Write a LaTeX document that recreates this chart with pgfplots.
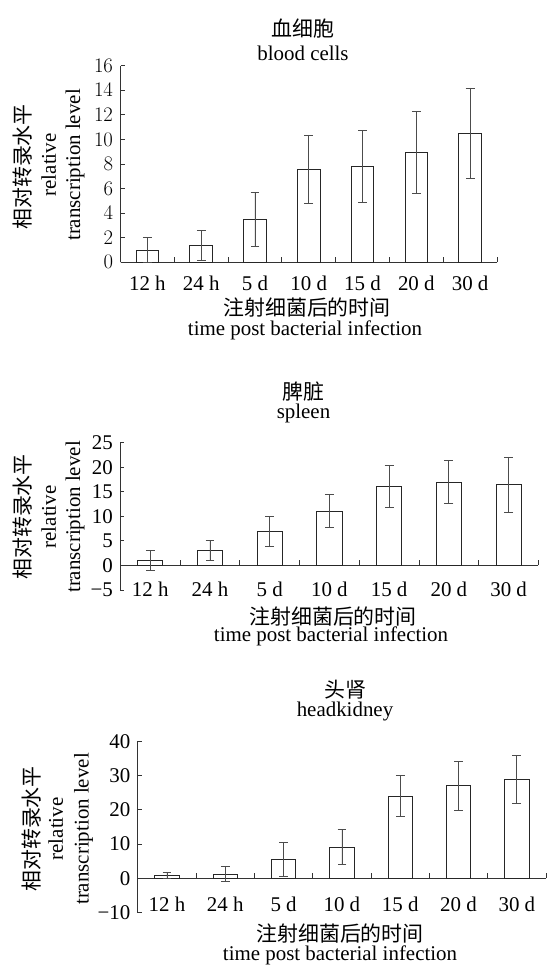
\documentclass[border=0pt]{standalone}
\usepackage{fontspec}
\setmainfont{Liberation Serif}
\newfontfamily\cjk{Noto Sans CJK SC}
\usepackage{pgfplots}
\pgfplotsset{compat=1.18}
\newcommand{\tf}{\fontsize{21}{24}\selectfont}
\pgfplotsset{
 myax/.style={scale only axis, axis y line*=left, axis x line*=middle,
   xmin=0, xmax=7,
   xtick={0.5,1.5,2.5,3.5,4.5,5.5,6.5},
   xticklabels={12 h,24 h,5 d,10 d,15 d,20 d,30 d},
   minor xtick={0,1,2,3,4,5,6,7},
   major x tick style={draw=none},
   minor tick length=5bp, major tick length=4bp,
   tick align=inside,
   axis line style={black!80, line width=0.8bp},
   tick style={black!80, line width=0.8bp},
   tick label style={font=\tf},
   yticklabel style={xshift=-4bp},
   hide obscured x ticks=false, hide obscured y ticks=false,
   clip=false,
 },
 mybar/.style={ybar, bar width=0.42, bar shift=0pt, draw=black!85, fill=white, line width=0.8bp,
   error bars/.cd, y dir=both, y explicit,
   error bar style={black!70, line width=0.8bp},
   error mark options={rotate=90, mark size=4.4bp, black!70, line width=0.8bp}},
}
\begin{document}
\begin{tikzpicture}
\path[use as bounding box] (0,0) rectangle (547bp,965bp);
% Panel 1
\begin{axis}[myax, at={(120.5bp,702.7bp)}, anchor=south west,
  width=376.5bp, height=196.6bp, ymin=0, ymax=16, ytick={0,2,...,16},
  xticklabel style={yshift=-10bp}]
\addplot[mybar] coordinates {
 (0.5,1.0) +- (0,1.0)
 (1.5,1.38) +- (0,1.22)
 (2.5,3.5) +- (0,2.2)
 (3.5,7.56) +- (0,2.8)
 (4.5,7.8) +- (0,2.9)
 (5.5,8.94) +- (0,3.3)
 (6.5,10.49) +- (0,3.7)
};
\end{axis}
% Panel 2
\begin{axis}[myax, at={(120.3bp,375bp)}, anchor=south west,
  width=418.2bp, height=147.3bp, ymin=-5, ymax=25, ytick={-5,0,5,10,15,20,25},
  yticklabels={−5,0,5,10,15,20,25}, xticklabel style={yshift=-13bp}]
\addplot[mybar] coordinates {
 (0.5,1.0) +- (0,2.05)
 (1.5,3.05) +- (0,2.0)
 (2.5,6.9) +- (0,3.0)
 (3.5,11.05) +- (0,3.4)
 (4.5,16.1) +- (0,4.2)
 (5.5,17.0) +- (0,4.3)
 (6.5,16.5) +- (0,5.6)
};
\end{axis}
% Panel 3
\begin{axis}[myax, at={(137.8bp,52.3bp)}, anchor=south west,
  width=408.2bp, height=171.4bp, ymin=-10, ymax=40, ytick={-10,0,10,20,30,40},
  yticklabels={−10,0,10,20,30,40}, xticklabel style={yshift=-15bp}]
\addplot[mybar] coordinates {
 (0.5,1.0) +- (0,0.9)
 (1.5,1.3) +- (0,2.2)
 (2.5,5.5) +- (0,5.0)
 (3.5,9.1) +- (0,5.1)
 (4.5,24.0) +- (0,6.0)
 (5.5,27.0) +- (0,7.2)
 (6.5,28.9) +- (0,7.0)
};
\end{axis}
% Texts
\tikzset{t/.style={font=\tf, inner sep=0pt}, c/.style={font=\cjk\tf, inner sep=0pt}}
% panel 1
\node[c] at (303bp,936bp) {血细胞};
\node[t] at (303bp,912bp) {blood cells};
\node[c] at (307bp,657bp) {注射细菌后的时间};
\node[t] at (305bp,635bp) {time post bacterial infection};
\node[c, rotate=90] at (22.7bp,798bp) {相对转录水平};
\node[t, rotate=90] at (48.8bp,800bp) {relative};
\node[t, rotate=90] at (75bp,800bp) {transcription level};
% panel 2
\node[c] at (303.5bp,573.3bp) {脾脏};
\node[t] at (303.5bp,552bp) {spleen};
\node[c] at (333bp,348.3bp) {注射细菌后的时间};
\node[t] at (331bp,328.3bp) {time post bacterial infection};
\node[c, rotate=90] at (22.7bp,448bp) {相对转录水平};
\node[t, rotate=90] at (48.8bp,448bp) {relative};
\node[t, rotate=90] at (75bp,448bp) {transcription level};
% panel 3
\node[c] at (345bp,275.7bp) {头肾};
\node[t] at (345bp,253.3bp) {headkidney};
\node[c] at (340bp,31.7bp) {注射细菌后的时间};
\node[t] at (340bp,10bp) {time post bacterial infection};
\node[c, rotate=90] at (31.4bp,136bp) {相对转录水平};
\node[t, rotate=90] at (55.8bp,136bp) {relative};
\node[t, rotate=90] at (83.7bp,136bp) {transcription level};
\end{tikzpicture}
\end{document}
